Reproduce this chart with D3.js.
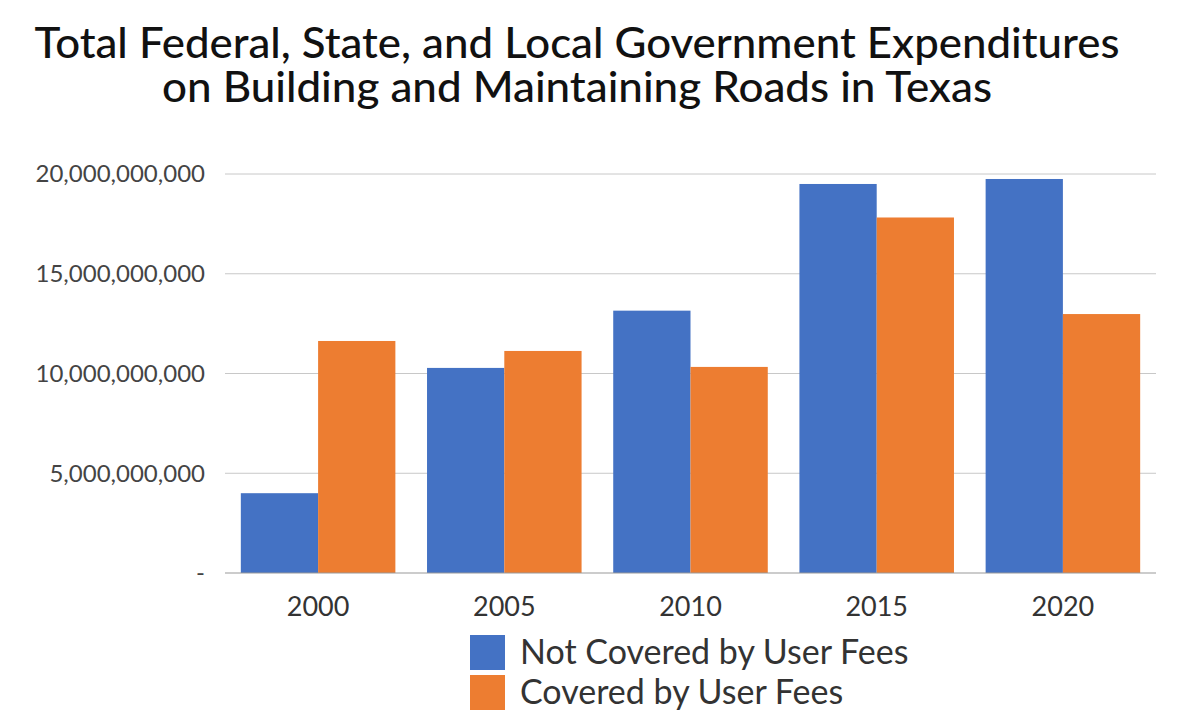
<!DOCTYPE html>
<html><head><meta charset="utf-8">
<script src="https://cdn.jsdelivr.net/npm/d3@7"></script>
<style>body{margin:0;background:#fff;font-family:Lato,"Open Sans",sans-serif;}</style>
</head><body>
<svg width="1200" height="722"></svg>
<script>
// data
const years = ["2000", "2005", "2010", "2015", "2020"];
const notCovered = [4.0e9, 10.28e9, 13.15e9, 19.5e9, 19.75e9];
const covered = [11.63e9, 11.13e9, 10.33e9, 17.82e9, 12.98e9];
const seriesNames = ["Not Covered by User Fees", "Covered by User Fees"];
const colors = ["#4472C4", "#ED7D31"];
const yTicks = [0, 5e9, 10e9, 15e9, 20e9];

let svg = d3.select("svg");
let margin = {left: 225, right: 44, top: 174, bottom: 149};
let width = 1200 - margin.left - margin.right,
    height = 722 - margin.top - margin.bottom;

svg.append("text").attr("x", 577).attr("y", 58).attr("text-anchor", "middle")
  .attr("font-size", 43).attr("font-weight", 500).attr("fill", "#111")
  .attr("textLength", 1085).attr("lengthAdjust", "spacingAndGlyphs")
  .text("Total Federal, State, and Local Government Expenditures");
svg.append("text").attr("x", 577).attr("y", 102).attr("text-anchor", "middle")
  .attr("font-size", 43).attr("font-weight", 500).attr("fill", "#111")
  .attr("textLength", 830).attr("lengthAdjust", "spacingAndGlyphs")
  .text("on Building and Maintaining Roads in Texas");

let g = svg.append("g").attr("transform", "translate(" + margin.left + "," + margin.top + ")");

let x = d3.scaleBand().domain(years).range([0, width]).paddingInner(0.17).paddingOuter(0.085);
let xs = d3.scaleBand().domain([0, 1]).range([0, x.bandwidth()]);
let y = d3.scaleLinear().domain([0, 20e9]).range([height, 0]);

g.selectAll(".grid").data(yTicks.slice(1)).enter().append("line")
  .attr("x1", 0).attr("x2", width)
  .attr("y1", d => y(d)).attr("y2", d => y(d))
  .attr("stroke", "#c8c8c8");

g.selectAll(".ylab").data(yTicks).enter().append("text")
  .attr("x", -20).attr("y", d => y(d)).attr("dy", "0.35em")
  .attr("text-anchor", "end").attr("font-size", 24).attr("fill", "#444")
  .text(d => d === 0 ? "-" : d3.format(",")(d));

let data = years.map((yr, i) => ({year: yr, vals: [notCovered[i], covered[i]]}));
let grp = g.selectAll(".grp").data(data).enter().append("g")
  .attr("transform", d => "translate(" + x(d.year) + ",0)");
grp.selectAll("rect").data(d => d.vals).enter().append("rect")
  .attr("x", (d, i) => xs(i)).attr("width", xs.bandwidth())
  .attr("y", d => y(d)).attr("height", d => height - y(d))
  .attr("fill", (d, i) => colors[i]);

g.append("line").attr("x1", 0).attr("x2", width).attr("y1", height).attr("y2", height)
  .attr("stroke", "#999");

g.selectAll(".xlab").data(years).enter().append("text")
  .attr("x", d => x(d) + x.bandwidth() / 2).attr("y", height + 43)
  .attr("text-anchor", "middle").attr("font-size", 27).attr("fill", "#333")
  .text(d => d);

let leg = svg.append("g").attr("transform", "translate(470,635)");
seriesNames.forEach((n, i) => {
  leg.append("rect").attr("x", 0).attr("y", i * 40).attr("width", 35).attr("height", 35).attr("fill", colors[i]);
  leg.append("text").attr("x", 50).attr("y", i * 40 + 17).attr("dy", "0.35em")
    .attr("font-size", 34).attr("fill", "#333").text(n);
});
</script>
</body></html>
